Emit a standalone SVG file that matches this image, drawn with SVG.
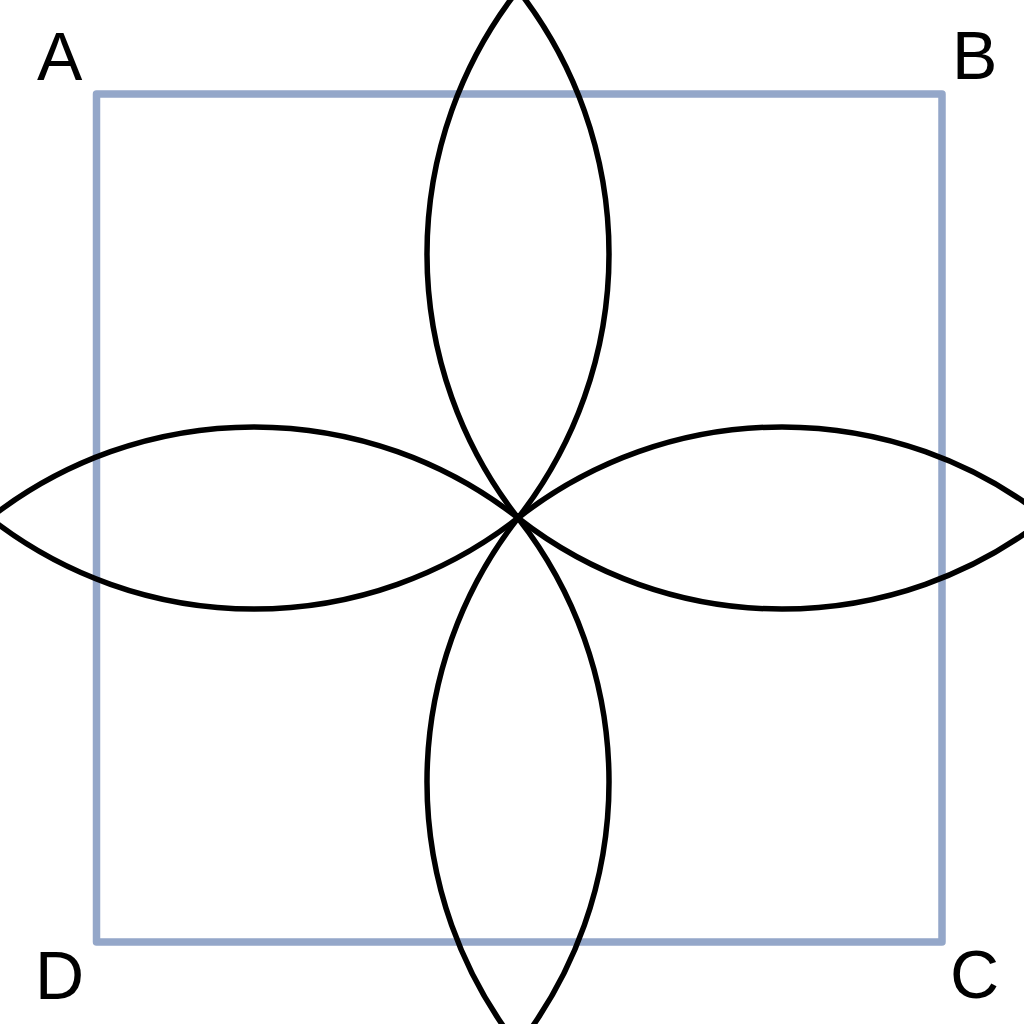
<svg xmlns="http://www.w3.org/2000/svg" width="1024" height="1024" viewBox="0 0 1024 1024">
<style>
.lbl{font-family:"Liberation Sans",Arial,sans-serif;font-size:68px;fill:#000}
.lens{fill:none;stroke:#000;stroke-width:5.5}
.sq{fill:none;stroke:#94A7C9;stroke-width:7.5;stroke-linejoin:round}
</style>
<rect width="1024" height="1024" fill="#fff"/>
<g id="square"><rect class="sq" x="96.5" y="94" width="845.5" height="848"/></g>
<g id="petals">
<path id="petal-top" class="lens" d="M518,-10 A428.4,428.4 0 0 1 518,518 A428.4,428.4 0 0 1 518,-10 Z"/>
<path id="petal-bottom" class="lens" d="M518,518 A428.4,428.4 0 0 1 518,1046 A428.4,428.4 0 0 1 518,518 Z"/>
<path id="petal-left" class="lens" d="M-10,518 A428.4,428.4 0 0 1 518,518 A428.4,428.4 0 0 1 -10,518 Z"/>
<path id="petal-right" class="lens" d="M518,518 A428.4,428.4 0 0 1 1046,518 A428.4,428.4 0 0 1 518,518 Z"/>
</g>
<g id="labels">
<text id="A" class="lbl" x="37" y="80">A</text>
<text id="B" class="lbl" x="952" y="79">B</text>
<text id="C" class="lbl" x="950" y="998">C</text>
<text id="D" class="lbl" x="35" y="999">D</text>
</g>
</svg>
